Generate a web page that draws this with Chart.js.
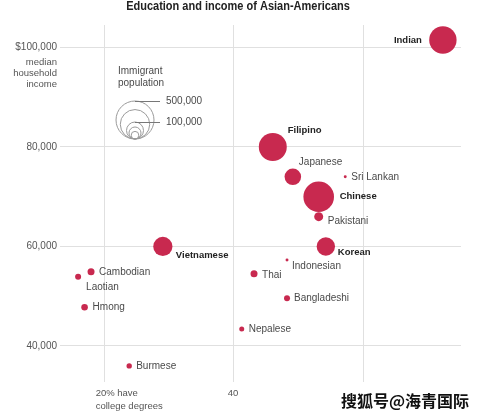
<!DOCTYPE html>
<html>
<head>
<meta charset="utf-8">
<script src="https://cdn.jsdelivr.net/npm/chart.js@4/dist/chart.umd.min.js"></script>
<style>
  html, body { margin: 0; padding: 0; background: #fff; }
  #wrap { position: relative; width: 479px; height: 417px; }
</style>
</head>
<body>
<div id="wrap"><canvas id="chart"></canvas></div>
<script>
// ── Data ──
const groups      = ['Indian','Filipino','Chinese','Japanese','Korean','Vietnamese','Pakistani','Sri Lankan','Indonesian','Thai','Bangladeshi','Nepalese','Cambodian','Laotian','Hmong','Burmese'];
const collegePct  = [72.3, 46.0, 53.1, 49.1, 54.2, 29.0, 53.1, 57.2, 48.2, 43.1, 48.2, 41.2, 17.9, 15.9, 16.9, 23.8];
const income      = [101500, 80000, 70000, 74000, 60000, 60000, 66000, 74000, 57300, 54500, 49600, 43400, 54900, 53900, 47800, 36000];
const population  = [260000, 271000, 324000, 95000, 117000, 128000, 28000, 3000, 3000, 17000, 12500, 8700, 17000, 12500, 15000, 10000];
const boldGroups  = ['Indian','Filipino','Chinese','Korean','Vietnamese'];
const xTicks      = [20, 40, 60];
const yTicks      = [40000, 60000, 80000, 100000];
const legendSizes = [500000, 300000, 100000, 50000, 20000];
const legendMarks = [500000, 100000];

// label placement relative to bubble centre: [dx, dy, align]
const labelPos = {
  Indian: [-21, 0, 'right'], Filipino: [15, -17, 'left'], Chinese: [21, 0, 'left'],
  Japanese: [6, -15, 'left'], Korean: [12, 6, 'left'], Vietnamese: [13, 9, 'left'],
  Pakistani: [9, 5, 'left'], 'Sri Lankan': [6, 0, 'left'], Indonesian: [5, 6, 'left'],
  Thai: [8, 1, 'left'], Bangladeshi: [7, 0, 'left'], Nepalese: [7, 0, 'left'],
  Cambodian: [8, 0, 'left'], Laotian: [8, 10, 'left'], Hmong: [8, 0, 'left'], Burmese: [7, 0, 'left'],
};

const TITLE = 'Education and income of Asian-Americans';
const RED = '#c8294f';
const SANS = '"Liberation Sans", Arial, sans-serif';
const radiusFor = (pop) => 19 * Math.sqrt(pop / 500000);

// ── Annotations: title, labels, size key, axis captions ──
const annotate = {
  id: 'annotate',
  afterDatasetsDraw(chart) {
    const { ctx, scales: { x } } = chart;
    const meta = chart.getDatasetMeta(0);
    ctx.save();
    ctx.textBaseline = 'middle';

    // condensed-looking title (no narrow font installed, squeeze it)
    ctx.save();
    ctx.translate(238, 7);
    ctx.scale(0.88, 1);
    ctx.font = 'bold 12.5px ' + SANS;
    ctx.fillStyle = '#222';
    ctx.textAlign = 'center';
    ctx.fillText(TITLE, 0, 0);
    ctx.restore();

    meta.data.forEach((el, i) => {
      const name = groups[i];
      const [dx, dy, align] = labelPos[name];
      const bold = boldGroups.includes(name);
      ctx.font = (bold ? 'bold 9.5px ' : '10px ') + SANS;
      ctx.fillStyle = bold ? '#222' : '#4a4a4a';
      ctx.textAlign = align;
      ctx.fillText(name, el.x + dx, el.y + dy);
    });

    // size key
    const kx = 135, kb = 139;
    ctx.strokeStyle = '#9a9a9a';
    ctx.lineWidth = 1;
    legendSizes.forEach(p => {
      const r = radiusFor(p);
      ctx.beginPath();
      ctx.arc(kx, kb - r, r, 0, Math.PI * 2);
      ctx.stroke();
    });
    ctx.font = '10px ' + SANS;
    ctx.fillStyle = '#4a4a4a';
    ctx.textAlign = 'left';
    ctx.fillText('Immigrant', 118, 71);
    ctx.fillText('population', 118, 83);
    ctx.strokeStyle = '#777';
    legendMarks.forEach(p => {
      const top = Math.round(kb - 2 * radiusFor(p)) + 0.5;
      ctx.beginPath();
      ctx.moveTo(kx, top);
      ctx.lineTo(160, top);
      ctx.stroke();
      ctx.fillText(p.toLocaleString('en-US'), 166, top);
    });

    // y caption under $100,000
    ctx.font = '9.5px ' + SANS;
    ctx.fillStyle = '#555';
    ctx.textAlign = 'right';
    ['median', 'household', 'income'].forEach((t, i) => ctx.fillText(t, 57, 62 + i * 11));

    // x captions
    const bx = chart.chartArea.bottom + 11;
    ctx.textAlign = 'left';
    ctx.fillText('20% have', x.getPixelForValue(20) - 9, bx);
    ctx.fillText('college degrees', x.getPixelForValue(20) - 9, bx + 13);
    ctx.textAlign = 'center';
    ctx.fillText('40', x.getPixelForValue(40) - 1, bx);

    // watermark
    ctx.font = 'bold 16px "Noto Sans CJK SC", sans-serif';
    ctx.textAlign = 'right';
    ctx.lineWidth = 3;
    ctx.strokeStyle = '#fff';
    ctx.strokeText('搜狐号@海青国际', 469, 401);
    ctx.fillStyle = '#111';
    ctx.fillText('搜狐号@海青国际', 469, 401);
    ctx.restore();
  }
};

// ── Chart ──
new Chart(document.getElementById('chart'), {
  type: 'bubble',
  data: {
    datasets: [{
      data: groups.map((g, i) => ({ x: collegePct[i], y: income[i], r: radiusFor(population[i]) })),
      backgroundColor: RED,
      borderWidth: 0,
      hoverRadius: 0,
    }]
  },
  options: {
    responsive: true, maintainAspectRatio: false, animation: false,
    layout: { padding: { left: 0, right: 18, top: 25, bottom: 0 } },
    plugins: {
      legend: { display: false },
      tooltip: { enabled: false },
      title: { display: false },
    },
    scales: {
      x: {
        type: 'linear', min: 13.1, max: 75.1,
        afterBuildTicks: s => { s.ticks = xTicks.map(v => ({ value: v })); },
        afterFit: s => { s.height = 35; },
        ticks: { display: false },
        grid: { color: '#e0e0e0', drawTicks: false },
        border: { display: false },
      },
      y: {
        type: 'linear', min: 32760, max: 104520,
        afterBuildTicks: s => { s.ticks = yTicks.map(v => ({ value: v })); },
        afterFit: s => { s.width = 60; },
        ticks: {
          padding: 3, color: '#555', font: { family: SANS, size: 10 },
          callback: v => (v === 100000 ? '$' : '') + v.toLocaleString('en-US'),
        },
        grid: { color: '#e0e0e0', drawTicks: false },
        border: { display: false },
      },
    },
  },
  plugins: [annotate],
});
</script>
</body>
</html>
